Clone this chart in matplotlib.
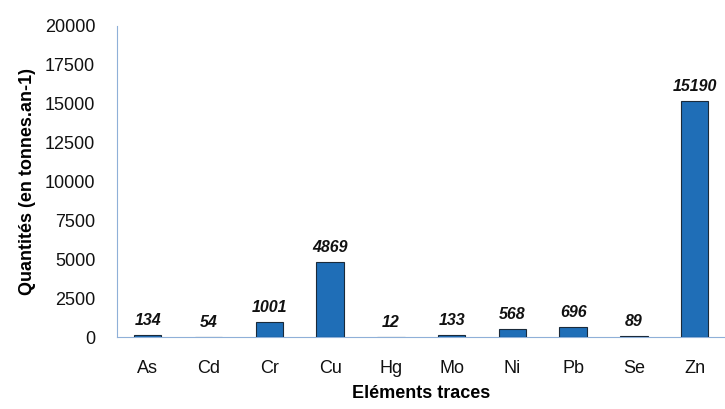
import matplotlib
matplotlib.use("Agg")
import matplotlib.pyplot as plt

categories = ["As", "Cd", "Cr", "Cu", "Hg", "Mo", "Ni", "Pb", "Se", "Zn"]
values = [134, 54, 1001, 4869, 12, 133, 568, 696, 89, 15190]
yticks = [0, 2500, 5000, 7500, 10000, 12500, 15000, 17500, 20000]

plt.rcParams['font.family'] = ['Liberation Sans', 'DejaVu Sans']

fig = plt.figure(figsize=(7.25, 4.09), dpi=100)
ax = fig.add_axes([0.162, 0.175, 0.838, 0.762])

x = range(len(categories))
ax.bar(x, values, width=0.45, color="#1F6EB7", edgecolor="#1a2a3a", linewidth=0.8, zorder=3)
for xi, v in zip(x, values):
    ax.text(xi, v + 450, str(v), ha="center", va="bottom", fontsize=11.5,
            fontweight="bold", fontstyle="italic", color="#111111")

ax.set_xlim(-0.5, len(categories) - 0.5)
ax.set_ylim(0, 20000)
ax.set_yticks(yticks)
ax.set_yticklabels([str(t) for t in yticks], fontsize=13, color="#111111")
ax.set_xticks(list(x))
ax.set_xticklabels(categories, fontsize=13, color="#111111")
ax.tick_params(axis="y", length=0, pad=16)
ax.tick_params(axis="x", length=0, pad=16)

for s in ["top", "right"]:
    ax.spines[s].set_visible(False)
ax.spines["left"].set_color("#8fb0d8")
ax.spines["bottom"].set_color("#8fb0d8")

ax.set_ylabel("Quantités (en tonnes.an-1)", fontsize=13, fontweight="bold", labelpad=6)
ax.set_xlabel("Eléments traces", fontsize=13, fontweight="bold", labelpad=6)

fig.savefig("out.png", dpi=100)
